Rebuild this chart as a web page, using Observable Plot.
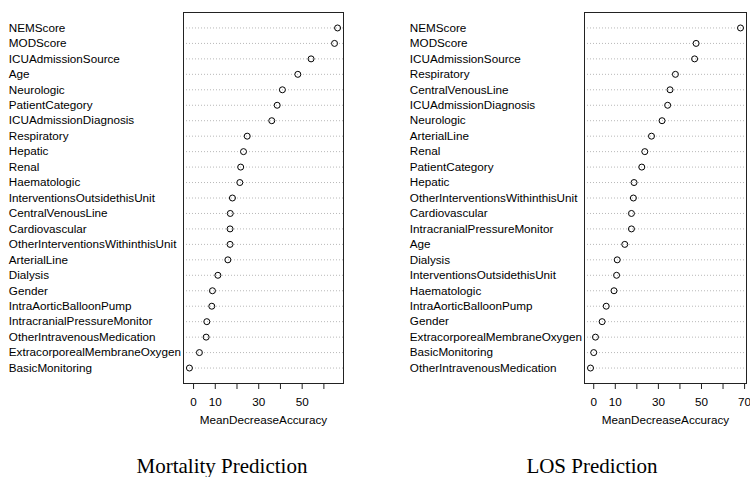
<!DOCTYPE html>
<html>
<head>
<meta charset="utf-8">
<script src="https://cdn.jsdelivr.net/npm/d3@7"></script>
<script src="https://cdn.jsdelivr.net/npm/@observablehq/plot@0.6"></script>
<style>
  html, body { margin: 0; padding: 0; background: #fff; }
  #root { position: relative; width: 750px; height: 477px; overflow: hidden; }
  .panel { position: absolute; top: 0; }
  .title { position: absolute; font-family: "Liberation Serif", "Times New Roman", serif; font-size: 21px; color: #000; white-space: nowrap; transform: translateX(-50%); }
</style>
</head>
<body>
<div id="root"></div>
<script>
// Mortality prediction: variable importance (top to bottom)
const mortalityVars = ["NEMScore","MODScore","ICUAdmissionSource","Age","Neurologic","PatientCategory","ICUAdmissionDiagnosis","Respiratory","Hepatic","Renal","Haematologic","InterventionsOutsidethisUnit","CentralVenousLine","Cardiovascular","OtherInterventionsWithinthisUnit","ArterialLine","Dialysis","Gender","IntraAorticBalloonPump","IntracranialPressureMonitor","OtherIntravenousMedication","ExtracorporealMembraneOxygen","BasicMonitoring"];
const mortalityValues = [66.3,64.9,54.1,48.0,40.9,38.5,36.0,24.7,23.0,21.7,21.3,17.9,16.9,16.8,16.8,15.8,11.2,8.7,8.4,6.1,5.8,2.7,-1.9];

// LOS prediction: variable importance (top to bottom)
const losVars = ["NEMScore","MODScore","ICUAdmissionSource","Respiratory","CentralVenousLine","ICUAdmissionDiagnosis","Neurologic","ArterialLine","Renal","PatientCategory","Hepatic","OtherInterventionsWithinthisUnit","Cardiovascular","IntracranialPressureMonitor","Age","Dialysis","InterventionsOutsidethisUnit","Haematologic","IntraAorticBalloonPump","Gender","ExtracorporealMembraneOxygen","BasicMonitoring","OtherIntravenousMedication"];
const losValues = [68.1,47.5,46.8,37.9,35.4,34.3,31.7,26.8,23.7,22.3,18.7,18.4,17.5,17.5,14.4,10.9,10.6,9.4,5.8,3.9,0.8,0.0,-1.5];

const mortalityTicks = [0,10,20,30,40,50,60];
const mortalityTickLabels = [0,10,30,50];
const losTicks = [0,10,20,30,40,50,60,70];
const losTickLabels = [0,10,30,50,70];

const xLabel = "MeanDecreaseAccuracy";
const titles = ["Mortality Prediction", "LOS Prediction"];

function dotPlot(vars, values, ticks, tickLabels, opts) {
  const n = vars.length;
  // row position as in R's dotchart: top row = n, bottom row = 1
  const data = vars.map((v, i) => ({name: v, value: values[i], row: n - i}));
  const [lo, hi] = d3.extent(values);
  const pad = (hi - lo) * 0.04;
  return Plot.plot({
    width: 375,
    height: 435,
    marginTop: 12,
    marginBottom: 52,
    marginLeft: opts.marginLeft,
    marginRight: opts.marginRight,
    style: {fontFamily: "'Liberation Sans', Arial, Helvetica, sans-serif", fontSize: "11.7px", color: "#000", background: "#fff"},
    x: {domain: [lo - pad, hi + pad]},
    y: {domain: [0, n + 1], axis: null},
    marks: [
      Plot.ruleY(data, {y: "row", stroke: "#b8b8b8", strokeDasharray: "1,2", strokeWidth: 1}),
      Plot.dot(data, {x: "value", y: "row", r: 3, stroke: "#000", fill: "none", strokeWidth: 1}),
      Plot.frame({stroke: "#222", strokeWidth: 1}),
      Plot.axisX({ticks: ticks, tickSize: 6, tickPadding: 8, tickFormat: d => tickLabels.includes(d) ? String(d) : "", label: null, stroke: "#222"}),
      Plot.text(data, {y: "row", text: "name", frameAnchor: "left", textAnchor: "start", dx: opts.labelX - opts.marginLeft, fill: "#000"}),
      Plot.text([xLabel], {text: d => d, frameAnchor: "bottom", dy: 37, lineAnchor: "middle", fill: "#000"})
    ]
  });
}

const root = document.getElementById("root");

const left = dotPlot(mortalityVars, mortalityValues, mortalityTicks, mortalityTickLabels, {marginLeft: 183, marginRight: 32, labelX: 8.3});
left.classList.add("panel");
left.style.left = "0px";
root.appendChild(left);

const right = dotPlot(losVars, losValues, losTicks, losTickLabels, {marginLeft: 209, marginRight: 4, labelX: 34.3});
right.classList.add("panel");
right.style.left = "375px";
root.appendChild(right);

const tPos = [[222, 454], [592, 454]];
titles.forEach((t, i) => {
  const div = document.createElement("div");
  div.className = "title";
  div.textContent = t;
  div.style.left = tPos[i][0] + "px";
  div.style.top = tPos[i][1] + "px";
  root.appendChild(div);
});
</script>
</body>
</html>
